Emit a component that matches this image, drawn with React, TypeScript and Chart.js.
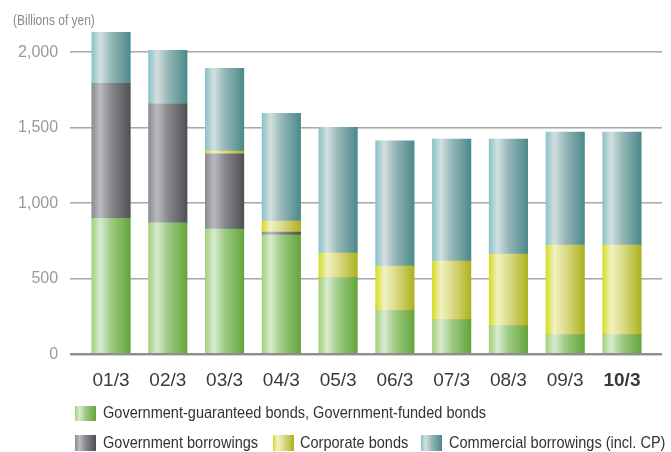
import React, { useEffect, useRef } from "react";
import { Chart, registerables } from "chart.js";

Chart.register(...registerables);

const categories = ["01/3", "02/3", "03/3", "04/3", "05/3", "06/3", "07/3", "08/3", "09/3", "10/3"];
const govGuaranteed = [901, 870, 830, 790, 505, 287, 227, 187, 128, 128];
const govBorrowings = [894, 788, 497, 20, 0, 0, 0, 0, 0, 0];
const corporateBonds = [0, 0, 19, 73, 166, 298, 391, 477, 596, 596];
const commercial = [337, 355, 548, 713, 832, 828, 808, 762, 748, 748];
const yTicks = [0, 500, 1000, 1500, 2000];

const seriesNames = [
  "Government-guaranteed bonds, Government-funded bonds",
  "Government borrowings",
  "Corporate bonds",
  "Commercial borrowings (incl. CP)",
];

const FONT = "'Liberation Sans', Arial, sans-serif";

const gradStops: string[][] = [
  ["#a5d179", "#d8ebd2", "#9ecb84", "#64a53b"],
  ["#8a8c90", "#babbc1", "#88898d", "#4e5054"],
  ["#d6db28", "#f1f2c2", "#dcdc8c", "#adb21f"],
  ["#8bc3c7", "#d3dfdf", "#97b7b8", "#4b8a8b"],
];
const stopPos = [0, 0.22, 0.5, 1];

const BAR_W = 38.5;
const PLOT_TOP = 29.65;

function makeBg(idx: number) {
  return (ctx: any) => {
    const chart = ctx.chart;
    const xs = chart.scales?.x;
    if (!xs || typeof ctx.dataIndex !== "number") return gradStops[idx][0];
    const cx = xs.getPixelForValue(ctx.dataIndex);
    if (!isFinite(cx)) return gradStops[idx][0];
    const g = chart.ctx.createLinearGradient(cx - BAR_W / 2, 0, cx + BAR_W / 2, 0);
    gradStops[idx].forEach((c, i) => g.addColorStop(stopPos[i], c));
    return g;
  };
}

const cssGrad = (idx: number) =>
  `linear-gradient(to right, ${gradStops[idx].map((c, i) => `${c} ${stopPos[i] * 100}%`).join(", ")})`;

const gridPlugin = {
  id: "customGrid",
  afterLayout(chart: any) {
    const y = chart.scales.y;
    y.top = PLOT_TOP;
    y.height = y.bottom - PLOT_TOP;
    y.configure();
    chart.chartArea.top = PLOT_TOP;
    chart.chartArea.height = chart.chartArea.bottom - PLOT_TOP;
  },
  beforeDatasetsDraw(chart: any) {
    const { ctx, scales } = chart;
    ctx.save();
    yTicks.forEach((v) => {
      if (v === 0) return;
      const y = Math.round(scales.y.getPixelForValue(v));
      ctx.fillStyle = "#a9a9a9";
      ctx.fillRect(70, y - 1, 592, 1);
      ctx.fillStyle = "#cfcfcf";
      ctx.fillRect(70, y, 592, 1);
    });
    ctx.restore();
  },
  afterDatasetsDraw(chart: any) {
    const { ctx, scales } = chart;
    const y = Math.round(scales.y.getPixelForValue(0));
    ctx.save();
    ctx.fillStyle = "#8e8e90";
    ctx.fillRect(70, y - 1, 592, 2);
    ctx.fillStyle = "#cfcfcf";
    ctx.fillRect(70, y + 1, 592, 1);
    ctx.restore();
  },
};

export default function App() {
  const ref = useRef<HTMLCanvasElement | null>(null);

  useEffect(() => {
    if (!ref.current) return;
    const data = [govGuaranteed, govBorrowings, corporateBonds, commercial];
    const chart = new Chart(ref.current, {
      type: "bar",
      data: {
        labels: categories,
        datasets: data.map((d, i) => ({
          label: seriesNames[i],
          data: d,
          backgroundColor: makeBg(i),
          borderWidth: 0,
          barThickness: BAR_W,
          clip: false as any,
        })),
      },
      options: {
        animation: false,
        responsive: false,
        maintainAspectRatio: false,
        devicePixelRatio: 1,
        layout: { padding: { left: 0, right: 20.65, top: PLOT_TOP, bottom: 0 } },
        plugins: { legend: { display: false }, tooltip: { enabled: false } },
        scales: {
          x: {
            stacked: true,
            grid: { display: false, drawTicks: false },
            border: { display: false },
            afterFit: (s: any) => {
              s.height = 97.7;
            },
            ticks: {
              padding: 15,
              color: "#3a3a3a",
              font: (c: any) => ({
                family: FONT,
                size: 19,
                weight: c.index === 9 ? "bold" : "normal",
              }),
            },
          },
          y: {
            stacked: true,
            min: 0,
            max: 2150,
            grid: { display: false, drawTicks: false },
            border: { display: false },
            afterFit: (s: any) => {
              s.width = 82.65;
            },
            afterBuildTicks: (s: any) => {
              s.ticks = yTicks.map((v) => ({ value: v }));
            },
            ticks: {
              padding: 24.5,
              color: "#9a9a9a",
              font: { family: FONT, size: 16 },
              callback: (v: any) => Number(v).toLocaleString("en-US"),
            },
          },
        },
      },
      plugins: [gridPlugin],
    });
    return () => chart.destroy();
  }, []);

  const legendText: React.CSSProperties = {
    position: "absolute",
    fontFamily: FONT,
    fontSize: 17,
    color: "#333",
    lineHeight: "20px",
    whiteSpace: "nowrap",
    transform: "scaleX(0.855)",
    transformOrigin: "0 50%",
  };
  const sw = (left: number, top: number, h: number, idx: number): React.CSSProperties => ({
    position: "absolute",
    left,
    top,
    width: 21,
    height: h,
    background: cssGrad(idx),
  });

  return (
    <div style={{ position: "absolute", left: 0, top: 0, width: 671, height: 452, background: "#fff" }}>
      <canvas ref={ref} width={671} height={452} style={{ position: "absolute", left: 0, top: 0 }} />
      <div style={{ ...legendText, left: 13, top: 10, fontSize: 14, color: "#8a8a8a" }}>(Billions of yen)</div>
      <div style={sw(75, 406, 15, 0)} />
      <div style={{ ...legendText, left: 103, top: 403 }}>{seriesNames[0]}</div>
      <div style={sw(75, 435, 16, 1)} />
      <div style={{ ...legendText, left: 103, top: 433 }}>{seriesNames[1]}</div>
      <div style={sw(273, 435, 16, 2)} />
      <div style={{ ...legendText, left: 300, top: 433 }}>{seriesNames[2]}</div>
      <div style={sw(421, 435, 16, 3)} />
      <div style={{ ...legendText, left: 449, top: 433 }}>{seriesNames[3]}</div>
    </div>
  );
}
